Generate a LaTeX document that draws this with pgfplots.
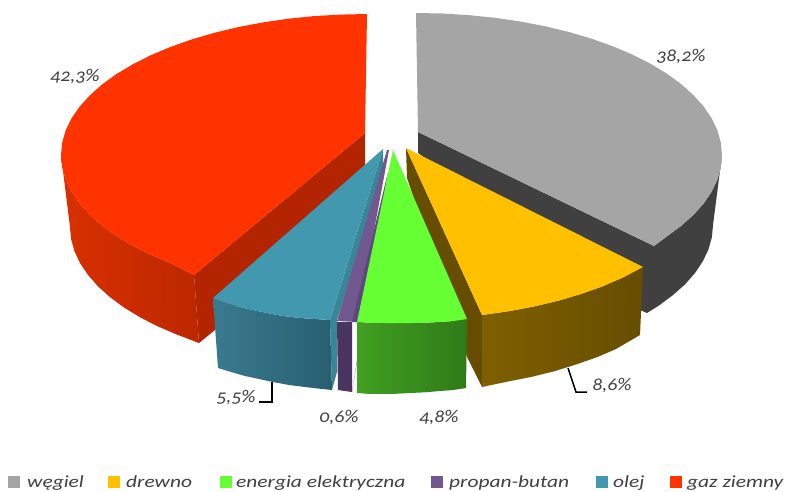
\documentclass[border=0pt]{standalone}
\usepackage{pgfplots}
\pgfplotsset{compat=1.18}
\usepackage{fontspec}
\setmainfont[Numbers=OldStyle]{Carlito}
\newfontfamily\labfont[Numbers=OldStyle,FakeStretch=1.1]{Carlito}
\newfontfamily\legfont[Numbers=OldStyle,FakeStretch=1.26]{Carlito}
\definecolor{gray1}{HTML}{A5A5A5}\definecolor{gray2}{HTML}{404040}
\definecolor{or1}{HTML}{FFC000}\definecolor{or2}{HTML}{664D00}\definecolor{or3}{HTML}{7F6000}
\definecolor{gr1}{HTML}{66FF33}\definecolor{gr2}{HTML}{42A021}\definecolor{gr3}{HTML}{2E7A18}
\definecolor{pu1}{HTML}{71588F}\definecolor{pu2}{HTML}{5E4680}\definecolor{pu3}{HTML}{4A3560}
\definecolor{te1}{HTML}{4198AF}\definecolor{te2}{HTML}{388698}\definecolor{te3}{HTML}{3A7A90}\definecolor{te4}{HTML}{285F70}
\definecolor{re1}{HTML}{FF3300}\definecolor{re2}{HTML}{B32400}\definecolor{re3}{HTML}{D93000}\definecolor{re4}{HTML}{BC2800}
\definecolor{labc}{HTML}{404040}
\tikzset{
  lab/.style={font=\labfont\itshape\fontsize{18}{18}\selectfont,text=labc,inner sep=0pt,anchor=center},
  leg/.style={font=\legfont\itshape\fontsize{17}{17}\selectfont,text=labc,inner sep=0pt,anchor=base west}}
\begin{document}
\begin{tikzpicture}
\useasboundingbox (0,0) rectangle (786pt,491pt);
\begin{axis}[at={(0,0)},anchor=south west,scale only axis,width=786pt,height=491pt,xmin=0,xmax=786,ymin=0,ymax=491,y dir=reverse,hide axis,clip=false]
% gray side
\addplot[draw=none,fill=gray2] coordinates {(418,132)(654,246)(666.7,236.5)(681,226)(693.3,215)(703.6,203.6)(711.6,191.8)(717.4,179.7)(720.8,167.4)(722,155)(713,225)(711.9,237.2)(708.5,249.3)(702.9,261.2)(695,273)(685.2,284.2)(673,295)(659.3,305.3)(647,313)(640,310)(418,153)} -- cycle;
% gray top
\addplot[draw=none,fill=gray1] coordinates {(416,13)(442.7,13.5)(469.1,15.2)(495.2,17.8)(520.7,21.6)(545.3,26.3)(569,32)(591.5,38.7)(612.7,46.2)(632.4,54.6)(650.4,63.7)(666.7,73.5)(681,84)(693.3,95)(703.6,106.4)(711.6,118.2)(717.4,130.3)(720.8,142.6)(722,155)(720.8,167.4)(717.4,179.7)(711.6,191.8)(703.6,203.6)(693.3,215)(681,226)(666.7,236.5)(654,246)(418,132)} -- cycle;
% red outer side
\addplot[draw=none,left color=re3,right color=re4] coordinates {(61,155)(62.2,167.3)(65.6,179.5)(71.4,191.5)(79.5,203.2)(89.8,214.6)(102,225.5)(116.4,235.9)(132.6,245.6)(150.6,254.7)(170.3,263)(194,275)(199,343)(176,334.2)(157,326)(139.5,317)(123.7,307.3)(109.8,297)(97.8,286.2)(88,274.9)(80.1,263.2)(74.5,251.3)(71.1,239.2)(70,227)} -- cycle;
% red inner side
\addplot[draw=none,fill=re2] coordinates {(365,133)(194,275)(199,343)(215,330)(365,165)} -- cycle;
% red top
\addplot[draw=none,fill=re1] coordinates {(367,14)(340.3,14.6)(313.9,16.1)(287.8,18.8)(262.3,22.5)(237.7,27.2)(214,32.9)(191.5,39.5)(170.3,47)(150.6,55.3)(132.6,64.4)(116.4,74.1)(102,84.5)(89.8,95.4)(79.5,106.8)(71.4,118.5)(65.6,130.5)(62.2,142.7)(61,155)(62.2,167.3)(65.6,179.5)(71.4,191.5)(79.5,203.2)(89.8,214.6)(102,225.5)(116.4,235.9)(132.6,245.6)(150.6,254.7)(170.3,263)(194,275)(365,133)} -- cycle;
% teal
\addplot[draw=none,fill=te2] coordinates {(383,149)(383,173)(337,320)(337,372)(332,390)(330,320)} -- cycle;
\addplot[draw=none,left color=te3,right color=te4] coordinates {(213,298)(226,303)(240,307)(253,310)(267,313)(283,316)(300,318)(315,319)(330,320)(332,390)(318,388.5)(305,387)(289,385)(273,382)(259,379)(245,376)(231,372)(218,368)} -- cycle;
\addplot[draw=none,fill=te1] coordinates {(383,149)(330,320)(315,319)(300,318)(283,316)(267,313)(253,310)(240,307)(226,303)(213,298)} -- cycle;
% purple
\addplot[draw=none,fill=pu1] coordinates {(387,150)(337,321)(357,322)(389,150)} -- cycle;
\addplot[draw=none,fill=pu2] coordinates {(388,172)(352,322)(357,322)(357,360)(352,392)} -- cycle;
\addplot[draw=none,fill=pu3] coordinates {(337,322)(352,322)(352,392)(338,390)} -- cycle;
% orange
\addplot[draw=none,fill=or2] coordinates {(406,148)(482,315)(482,387)(467,357)(407,178)} -- cycle;
\addplot[draw=none,left color=or3,right color=or2] coordinates {(482,315)(510.7,310.9)(535.3,306.2)(559,300.5)(581.5,293.8)(602.7,286.3)(622.4,277.9)(643,267)(640,335)(616,349)(597,357.2)(576,364.5)(554.5,371.2)(531,377)(507.6,381.6)(482,387)} -- cycle;
\addplot[draw=none,fill=or1] coordinates {(406,148)(643,267)(622.4,277.9)(602.7,286.3)(581.5,293.8)(559,300.5)(535.3,306.2)(510.7,310.9)(482,315)} -- cycle;
% green
\addplot[draw=none,left color=gr2,right color=gr3] coordinates {(357,322)(371,322.8)(385,323)(397,323.2)(410,323)(425,322.7)(440,322)(454,321)(467,319)(466,388)(453,390)(440,391)(425,392.3)(410,393)(395,393.8)(380,394)(368,393.8)(357,393)} -- cycle;
\addplot[draw=none,fill=gr1] coordinates {(393,150)(467,319)(454,321)(440,322)(425,322.7)(410,323)(397,323.2)(385,323)(371,322.8)(357,322)} -- cycle;
% leaders
\addplot[black,line width=1.5pt] coordinates {(272,382)(272,402)(259,402)};
\addplot[black,line width=1.5pt] coordinates {(568,368)(576,392)(587,392)};
% labels
\node[lab] at (axis cs:681,57) {38,2\%};
\node[lab] at (axis cs:75,77) {42,3\%};
\node[lab] at (axis cs:612,386) {8,6\%};
\node[lab] at (axis cs:236,398) {5,5\%};
\node[lab] at (axis cs:339,418) {0,6\%};
\node[lab] at (axis cs:439,418) {4,8\%};
% legend
\addplot[draw=none,fill=gray1] coordinates {(8,476)(20,476)(20,488)(8,488)} -- cycle;
\addplot[draw=none,fill=or1] coordinates {(108,476)(120,476)(120,488)(108,488)} -- cycle;
\addplot[draw=none,fill=gr1] coordinates {(220,476)(232,476)(232,488)(220,488)} -- cycle;
\addplot[draw=none,fill=pu1] coordinates {(431,476)(443,476)(443,488)(431,488)} -- cycle;
\addplot[draw=none,fill=te1] coordinates {(596,476)(608,476)(608,488)(596,488)} -- cycle;
\addplot[draw=none,fill=re1] coordinates {(670,476)(682,476)(682,488)(670,488)} -- cycle;
\node[leg] at (axis cs:27,487) {węgiel};
\node[leg] at (axis cs:126,487) {drewno};
\node[leg] at (axis cs:236,487) {energia elektryczna};
\node[leg] at (axis cs:449,487) {propan-butan};
\node[leg] at (axis cs:613,487) {olej};
\node[leg] at (axis cs:687,487) {gaz ziemny};
\end{axis}
\end{tikzpicture}
\end{document}
